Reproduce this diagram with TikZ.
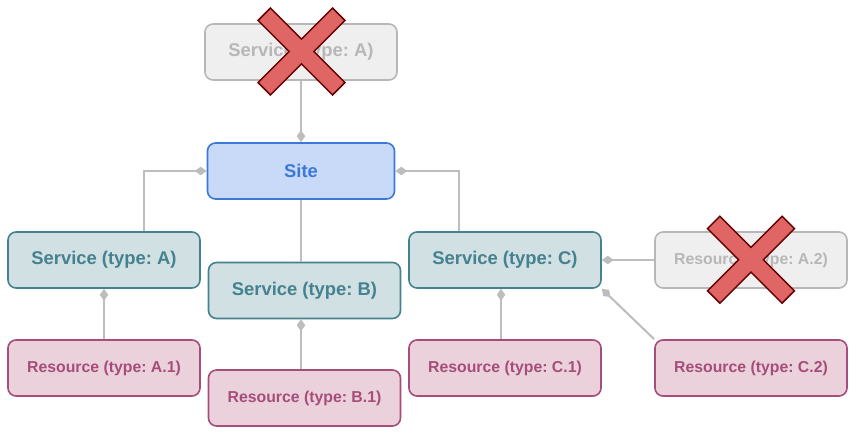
\documentclass[tikz,border=0pt]{standalone}
\usepackage{fontspec}
\setmainfont{Liberation Sans}
\usetikzlibrary{arrows.meta}
\definecolor{sitefill}{HTML}{C9DAF8}
\definecolor{siteline}{HTML}{3C78D8}
\definecolor{svcfill}{HTML}{D0E0E3}
\definecolor{svcline}{HTML}{45818E}
\definecolor{resfill}{HTML}{EAD1DC}
\definecolor{resline}{HTML}{A64D79}
\definecolor{ghostfill}{HTML}{EFEFEF}
\definecolor{ghostline}{HTML}{B7B7B7}
\definecolor{linkgray}{HTML}{BDBDBD}
\definecolor{xfill}{HTML}{E06666}
\definecolor{xline}{HTML}{660000}
\frenchspacing
\tikzset{
  box/.style={rectangle, rounded corners=8pt, line width=1.6pt, inner sep=0pt,
    minimum width=192pt, minimum height=56pt, font=\bfseries},
  sitebox/.style={box, minimum width=187pt, fill=sitefill, draw=siteline,
    text=siteline, font=\bfseries\fontsize{18.4}{22}\selectfont},
  svcbox/.style={box, fill=svcfill, draw=svcline, text=svcline,
    font=\bfseries\fontsize{18.4}{22}\selectfont},
  resbox/.style={box, fill=resfill, draw=resline, text=resline,
    font=\bfseries\fontsize{15.8}{19}\selectfont},
  ghostbox/.style={box, fill=ghostfill, draw=ghostline, text=ghostline},
  link/.style={draw=linkgray, line width=2pt},
  haslink/.style={link, -{Diamond[length=12pt,width=8.5pt]}},
  crossmark/.style={fill=xfill, draw=xline, line width=1.5pt, line join=miter}
}
\begin{document}
\begin{tikzpicture}[x=1pt,y=-1pt]
    \useasboundingbox (0,0) rectangle (854,433);
    % Site et services
    \node[ghostbox, font=\bfseries\fontsize{18.4}{22}\selectfont] (oldsvc) at (301,52) {Service (type: A)};
    \node[sitebox] (site) at (301,171) {Site};
    \node[svcbox] (svcA) at (104,260) {Service (type: A)};
    \node[svcbox] (svcB) at (304.5,290.5) {Service (type: B)};
    \node[svcbox] (svcC) at (505,260) {Service (type: C)};
    % Ressources
    \node[ghostbox, font=\bfseries\fontsize{15.8}{19}\selectfont] (oldres) at (751,260) {Resource (type: A.2)};
    \node[resbox] (resA1) at (104,368) {Resource (type: A.1)};
    \node[resbox] (resB1) at (304.5,398) {Resource (type: B.1)};
    \node[resbox] (resC1) at (505,368) {Resource (type: C.1)};
    \node[resbox] (resC2) at (751,368) {Resource (type: C.2)};
    % Liens vers le site
    \draw[haslink] (oldsvc.south) -- (site.north);
    \draw[haslink] ([xshift=40pt]svcA.north) |- (site.west);
    \draw[haslink] ([xshift=-46pt]svcC.north) |- (site.east);
    \draw[link] (svcB.north -| site.south) -- (site.south);
    % Liens vers les services
    \draw[haslink] (resA1.north) -- (svcA.south);
    \draw[haslink] ([xshift=-3.5pt]resB1.north) -- ([xshift=-3.5pt]svcB.south);
    \draw[haslink] ([xshift=-4pt]resC1.north) -- ([xshift=-4pt]svcC.south);
    \draw[haslink] (oldres.west) -- (svcC.east);
    \draw[haslink] (resC2.north west) -- (svcC.south east);
    % Croix rouges
    \foreach \cx/\cy in {301.5/51.5, 751/259.7} {
        \begin{scope}[shift={(\cx,\cy)}, rotate=45]
            \draw[crossmark] (52.7,8.75) -- (8.75,8.75) -- (8.75,52.7) -- (-8.75,52.7)
                -- (-8.75,8.75) -- (-52.7,8.75) -- (-52.7,-8.75) -- (-8.75,-8.75)
                -- (-8.75,-52.7) -- (8.75,-52.7) -- (8.75,-8.75) -- (52.7,-8.75) -- cycle;
        \end{scope}}
\end{tikzpicture}
\end{document}
